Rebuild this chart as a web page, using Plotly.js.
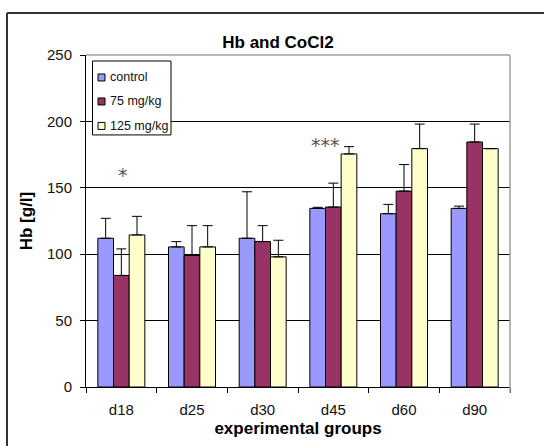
<!DOCTYPE html>
<html>
<head>
<meta charset="utf-8">
<script src="https://cdn.plot.ly/plotly-3.0.1.min.js"></script>
<style>html,body{margin:0;padding:0;background:#fff;}#chart{width:544px;height:446px;}</style>
</head>
<body>
<div id="chart"></div>
<script>
// ---- data ----
const groups = ['d18', 'd25', 'd30', 'd45', 'd60', 'd90'];
const seriesNames = ['control', '75 mg/kg', '125 mg/kg'];
const controlMean = [112, 105.5, 112, 134.5, 130.5, 134.5];
const controlSD   = [15, 4, 35, 0.8, 7, 1.7];
const dose75Mean  = [84, 99, 109.5, 135.5, 147.5, 184.5];
const dose75SD    = [20, 22.5, 12, 18, 20, 13.5];
const dose125Mean = [114.5, 105.5, 98, 175.5, 179.5, 179.5];
const dose125SD   = [14, 16, 12.5, 5.5, 18.5, 0];
const sigGroups = ['d18', 'd45'];
const sigLabels = ['*', '***'];
const sigY = [162, 184.5];
const yTicks = [0, 50, 100, 150, 200, 250];

// ---- styles ----
const colors = ['#9999FF', '#993366', '#FFFFCC'];
const means = [controlMean, dose75Mean, dose125Mean];
const sds = [controlSD, dose75SD, dose125SD];
const FONT = 'Arial, "Liberation Sans", sans-serif';

const traces = seriesNames.map((name, i) => ({
  type: 'bar',
  name: name,
  x: groups,
  y: means[i],
  marker: {color: colors[i], line: {color: '#000', width: 1}},
  error_y: {type: 'data', symmetric: false, array: sds[i], arrayminus: sds[i].map(() => 0),
            color: '#000', thickness: 1, width: 5},
  showlegend: false,
  hoverinfo: 'x+y'
}));

// plot area in px: x 86..510, y 55..387.3
const L = 86, R = 510, T = 55, B = 387.3;
const px = v => (v - L) / (R - L);
const py = v => (B - v) / (B - T);

const shapes = [
  {type: 'line', xref: 'paper', yref: 'paper', x0: 0, x1: 1, y0: 1, y1: 1, line: {color: '#A0A0A0', width: 1.5}},
  {type: 'line', xref: 'paper', yref: 'paper', x0: 1, x1: 1, y0: py(393), y1: 1, line: {color: '#A0A0A0', width: 1.5}},
  {type: 'line', xref: 'paper', yref: 'paper', x0: px(7), x1: px(7), y0: py(460), y1: py(13), line: {color: '#333', width: 2}},
  {type: 'line', xref: 'paper', yref: 'paper', x0: px(7), x1: px(560), y0: py(13), y1: py(13), line: {color: '#333', width: 2}},
  {type: 'rect', xref: 'paper', yref: 'paper', x0: px(92.5), x1: px(171), y0: py(135), y1: py(61),
   line: {color: '#000', width: 1}, fillcolor: '#fff', layer: 'above'}
];
const annotations = [];
const legendY = [77.5, 101.5, 126];
seriesNames.forEach((name, i) => {
  shapes.push({type: 'rect', xref: 'paper', yref: 'paper', x0: px(98), x1: px(105),
    y0: py(legendY[i] + 3.5), y1: py(legendY[i] - 3.5), fillcolor: colors[i],
    line: {color: '#000', width: 1}, layer: 'above'});
  annotations.push({xref: 'paper', yref: 'paper', x: px(108), y: py(legendY[i]), text: name,
    showarrow: false, xanchor: 'left', yanchor: 'middle', font: {family: FONT, size: 12.5, color: '#111'}});
});
sigLabels.forEach((lab, i) => {
  annotations.push({xref: 'x', yref: 'y', x: sigGroups[i], y: sigY[i], text: lab, showarrow: false,
    xshift: lab.length > 1 ? -8 : 2, yshift: -3, yanchor: 'middle',
    font: {family: '"DejaVu Sans", sans-serif', size: 19, color: '#555'}});
});

const layout = {
  width: 544, height: 446,
  margin: {l: L, r: 544 - R, t: T, b: 446 - B},
  paper_bgcolor: '#fff', plot_bgcolor: '#fff',
  font: {family: FONT, size: 15, color: '#111'},
  title: {text: '<b>Hb and CoCl2</b>', font: {family: FONT, size: 17, color: '#000'},
          x: 278 / 544, xref: 'container', xanchor: 'center', y: 1 - 42 / 446, yref: 'container', yanchor: 'middle'},
  barmode: 'group', bargap: 0.335, bargroupgap: 0,
  xaxis: {type: 'category', tickson: 'boundaries', ticks: 'outside', ticklen: 5, tickcolor: '#000',
          showline: true, linecolor: '#000', linewidth: 1, showgrid: false,
          tickfont: {family: FONT, size: 15, color: '#111'}, ticklabelstandoff: 9,
          title: {text: '<b>experimental groups</b>', font: {family: FONT, size: 17, color: '#000'}, standoff: 5}},
  yaxis: {range: [0, 250], tickvals: yTicks, ticks: 'outside', ticklen: 5, tickcolor: '#000',
          showline: true, linecolor: '#000', linewidth: 1, showgrid: true, gridcolor: '#000', gridwidth: 1,
          zeroline: false, tickfont: {family: FONT, size: 15, color: '#111'}, ticklabelstandoff: 5,
          title: {text: '<b>Hb [g/l]</b>', font: {family: FONT, size: 17, color: '#000'}, standoff: 10}},
  shapes: shapes,
  annotations: annotations,
  showlegend: false
};

Plotly.newPlot('chart', traces, layout, {displayModeBar: false, staticPlot: true});
</script>
</body>
</html>
